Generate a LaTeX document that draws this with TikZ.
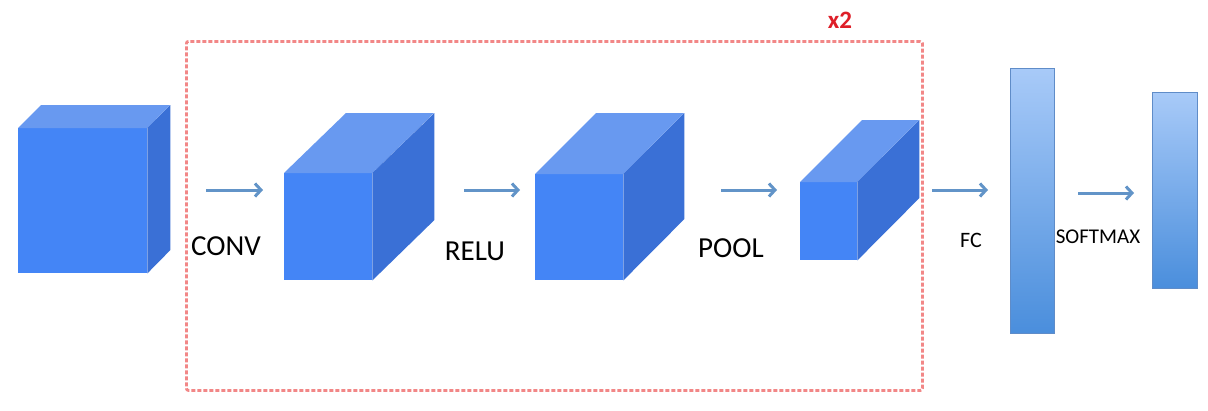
\documentclass[tikz,border=0pt]{standalone}
\usepackage{fontspec}
\setmainfont{Carlito}
\usetikzlibrary{arrows.meta}
\definecolor{cfront}{RGB}{68,133,246}
\definecolor{ctop}{RGB}{104,153,240}
\definecolor{cside}{RGB}{58,112,214}
\definecolor{carrow}{RGB}{98,148,200}
\definecolor{cbox}{RGB}{242,135,135}
\definecolor{cred}{RGB}{222,30,40}
\definecolor{bartop}{RGB}{168,202,248}
\definecolor{barbot}{RGB}{74,142,220}
\definecolor{barline}{RGB}{95,140,200}
\tikzset{
  front/.style={fill=cfront, draw=none, inner sep=0pt, anchor=north west},
  flow/.style={draw=carrow, line width=3pt, -{Straight Barb[length=6pt,width=13pt,line width=3pt]}},
  lbl/.style={font=\fontsize{29}{32}\selectfont, anchor=base, inner sep=0pt},
  slbl/.style={font=\fontsize{21}{24}\selectfont, anchor=base, inner sep=0pt},
  bar/.style={draw=barline, line width=1pt, top color=bartop, bottom color=barbot, inner sep=0pt, anchor=north west},
  loop/.style={draw=cbox, line width=2.8pt, dash pattern=on 4pt off 2pt, rounded corners=2pt}
}
% name, x, y, w, h, dx, dy
\newcommand\mycube[7]{%
  \node[front, minimum width=#4pt, minimum height=#5pt] (#1) at (#2,#3) {};
  \fill[ctop] (#1.north west) -- ++(#6,#7) -- ++(#4,0) -- (#1.north east) -- cycle;
  \fill[cside] (#1.north east) -- ++(#6,#7) -- ++(0,#5) -- (#1.south east) -- cycle;
}
\begin{document}
\begin{tikzpicture}[x=1pt,y=-1pt]
\useasboundingbox (0,0) rectangle (1208,410);
\fill[white] (0,0) rectangle (1208,410);
% loop box
\node[inner sep=0pt, minimum width=736pt, minimum height=349pt, anchor=north west, loop] (loopbox) at (185,40) {};
\node[font=\bfseries\fontsize{25}{27}\selectfont, text=cred, anchor=base, inner sep=0pt] (x2) at (840,28) {x2};
% cubes
\mycube{c1}{18}{128}{129}{145}{23}{-23}
\mycube{c2}{284}{173}{88}{107}{62}{-60}
\mycube{c3}{535}{174}{88}{106}{61}{-61}
\mycube{c4}{800}{182}{57}{78}{62}{-62}
% bars
\node[bar, minimum width=44pt, minimum height=265pt] (b1) at (1010,68) {};
\node[bar, minimum width=45pt, minimum height=196pt] (b2) at (1152,92) {};
% arrow endpoints
\coordinate (a1s) at (206,190); \coordinate (a1e) at (263,190);
\coordinate (a2s) at (464,190); \coordinate (a2e) at (520,190);
\coordinate (a3s) at (721,190); \coordinate (a3e) at (777,190);
\coordinate (a4s) at (932,190); \coordinate (a4e) at (988,190);
\coordinate (a5s) at (1078,193); \coordinate (a5e) at (1134,193);
\draw[flow] (a1s) -- (a1e);
\draw[flow] (a2s) -- (a2e);
\draw[flow] (a3s) -- (a3e);
\draw[flow] (a4s) -- (a4e);
\draw[flow] (a5s) -- (a5e);
% labels
\node[lbl] (tconv) at (226,255) {CONV};
\node[lbl] (trelu) at (475,260) {RELU};
\node[lbl] (tpool) at (731,257) {POOL};
\node[slbl, font=\fontsize{22}{24}\selectfont] (tfc) at (971,247) {FC};
\node[slbl] (tsoft) at (1098,243) {SOFTMAX};
\end{tikzpicture}
\end{document}
